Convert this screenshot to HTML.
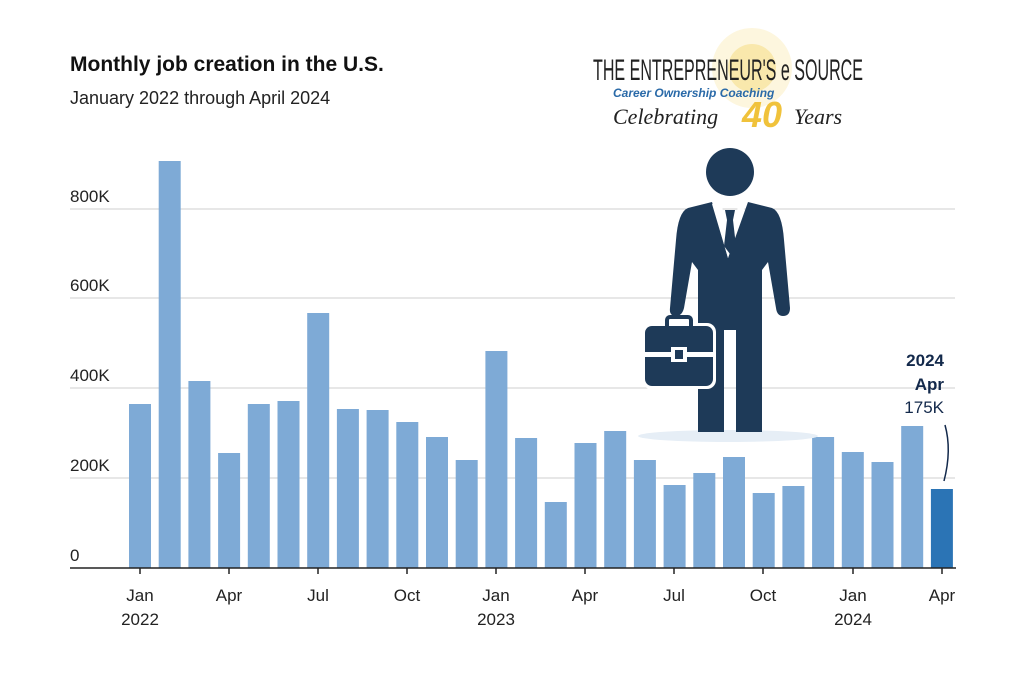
<!DOCTYPE html>
<html><head><meta charset="utf-8"><style>
body{margin:0;background:#fff;}
svg{display:block;font-family:"Liberation Sans",sans-serif;}
</style></head><body>
<svg width="1024" height="683" viewBox="0 0 1024 683">
<rect width="1024" height="683" fill="#fff"/>
<text x="70" y="71" font-size="21" font-weight="bold" fill="#111">Monthly job creation in the U.S.</text>
<text x="70" y="104" font-size="18" fill="#222">January 2022 through April 2024</text>
<g stroke="#cfcfcf" stroke-width="1">
<line x1="70" x2="955" y1="209" y2="209"/>
<line x1="70" x2="955" y1="298" y2="298"/>
<line x1="70" x2="955" y1="388" y2="388"/>
<line x1="70" x2="955" y1="478" y2="478"/>
</g>
<g font-size="17" fill="#222">
<text x="70" y="202">800K</text>
<text x="70" y="291">600K</text>
<text x="70" y="381">400K</text>
<text x="70" y="471">200K</text>
<text x="70" y="561">0</text>
</g>
<g fill="#7eaad6">
<rect x="129" y="404" width="22" height="164"/>
<rect x="158.7" y="161" width="22" height="407"/>
<rect x="188.4" y="381" width="22" height="187"/>
<rect x="218.1" y="453" width="22" height="115"/>
<rect x="247.8" y="404" width="22" height="164"/>
<rect x="277.5" y="401" width="22" height="167"/>
<rect x="307.2" y="313" width="22" height="255"/>
<rect x="336.9" y="409" width="22" height="159"/>
<rect x="366.6" y="410" width="22" height="158"/>
<rect x="396.3" y="422" width="22" height="146"/>
<rect x="426" y="437" width="22" height="131"/>
<rect x="455.7" y="460" width="22" height="108"/>
<rect x="485.4" y="351" width="22" height="217"/>
<rect x="515.1" y="438" width="22" height="130"/>
<rect x="544.8" y="502" width="22" height="66"/>
<rect x="574.5" y="443" width="22" height="125"/>
<rect x="604.2" y="431" width="22" height="137"/>
<rect x="633.9" y="460" width="22" height="108"/>
<rect x="663.6" y="485" width="22" height="83"/>
<rect x="693.3" y="473" width="22" height="95"/>
<rect x="723" y="457" width="22" height="111"/>
<rect x="752.7" y="493" width="22" height="75"/>
<rect x="782.4" y="486" width="22" height="82"/>
<rect x="812.1" y="437" width="22" height="131"/>
<rect x="841.8" y="452" width="22" height="116"/>
<rect x="871.5" y="462" width="22" height="106"/>
<rect x="901.2" y="426" width="22" height="142"/>
</g>
<rect x="930.9" y="489" width="22" height="79" fill="#2b74b5"/>
<line x1="70" x2="956" y1="568" y2="568" stroke="#222" stroke-width="1.5"/>
<g stroke="#222" stroke-width="1.5">
<line x1="140" x2="140" y1="568" y2="574"/>
<line x1="229" x2="229" y1="568" y2="574"/>
<line x1="318" x2="318" y1="568" y2="574"/>
<line x1="407" x2="407" y1="568" y2="574"/>
<line x1="496" x2="496" y1="568" y2="574"/>
<line x1="585" x2="585" y1="568" y2="574"/>
<line x1="674" x2="674" y1="568" y2="574"/>
<line x1="763" x2="763" y1="568" y2="574"/>
<line x1="853" x2="853" y1="568" y2="574"/>
<line x1="942" x2="942" y1="568" y2="574"/>
</g>
<g font-size="17" fill="#222" text-anchor="middle">
<text x="140" y="601">Jan</text><text x="140" y="625">2022</text>
<text x="229" y="601">Apr</text>
<text x="318" y="601">Jul</text>
<text x="407" y="601">Oct</text>
<text x="496" y="601">Jan</text><text x="496" y="625">2023</text>
<text x="585" y="601">Apr</text>
<text x="674" y="601">Jul</text>
<text x="763" y="601">Oct</text>
<text x="853" y="601">Jan</text><text x="853" y="625">2024</text>
<text x="942" y="601">Apr</text>
</g>
<g text-anchor="end" font-size="17">
<text x="944" y="366" font-weight="bold" fill="#13294b">2024</text>
<text x="944" y="390" font-weight="bold" fill="#13294b">Apr</text>
<text x="944" y="413" fill="#13294b">175K</text>
</g>
<path d="M945 425 Q952 450 944 481" fill="none" stroke="#13294b" stroke-width="1.5"/>
<!-- logo -->
<circle cx="752" cy="68" r="40" fill="#fbf0c8" opacity="0.6"/>
<circle cx="752" cy="68" r="24" fill="#f7df8a" opacity="0.6"/>
<text x="593" y="80" font-size="30" fill="#222" font-family="Liberation Sans Narrow,Liberation Sans,sans-serif" textLength="270" lengthAdjust="spacingAndGlyphs">THE ENTREPRENEUR'S e SOURCE</text>
<text x="613" y="97" font-size="12" font-weight="bold" font-style="italic" fill="#2a6aa8">Career Ownership Coaching</text>
<text x="613" y="124" font-size="22" font-style="italic" font-family="Liberation Serif,serif" fill="#222">Celebrating</text>
<text x="742" y="127" font-size="36" font-weight="bold" font-style="italic" fill="#f0c23b">40</text>
<text x="794" y="124" font-size="22" font-style="italic" font-family="Liberation Serif,serif" fill="#222">Years</text>
<!-- person -->
<ellipse cx="728" cy="436" rx="90" ry="6" fill="#e6eef6"/>
<g fill="#1e3a58">
<circle cx="730" cy="172" r="24"/>
<path d="M688 208 L712 202 L728 258 L748 202 L772 208 Q782 212 784 240 L790 308 Q790 316 783 316 Q777 316 776 308 L768 262 L762 270 L762 432 L736 432 L736 330 L724 330 L724 432 L698 432 L698 270 L692 262 L684 308 Q682 316 676 316 Q669 316 670 308 L676 240 Q678 212 688 208 Z"/>
</g>
<path d="M712 204 L728 258 L746 204 L738 206 L730 246 L722 206 Z" fill="#fff"/>
<path d="M725 210 L735 210 L733 220 L736 246 L730 254 L724 246 L727 220 Z" fill="#1e3a58"/>
<g>
<rect x="642" y="323" width="74" height="66" rx="9" fill="#fff"/>
<rect x="645" y="326" width="68" height="60" rx="7" fill="#1e3a58"/>
<rect x="667" y="317" width="24" height="12" rx="3" fill="none" stroke="#1e3a58" stroke-width="4"/>
<rect x="645" y="352" width="68" height="5" fill="#fff"/>
<rect x="671" y="347" width="16" height="15" fill="#fff"/>
<rect x="675" y="350" width="8" height="9" fill="#1e3a58"/>
</g>
</svg>
</body></html>
